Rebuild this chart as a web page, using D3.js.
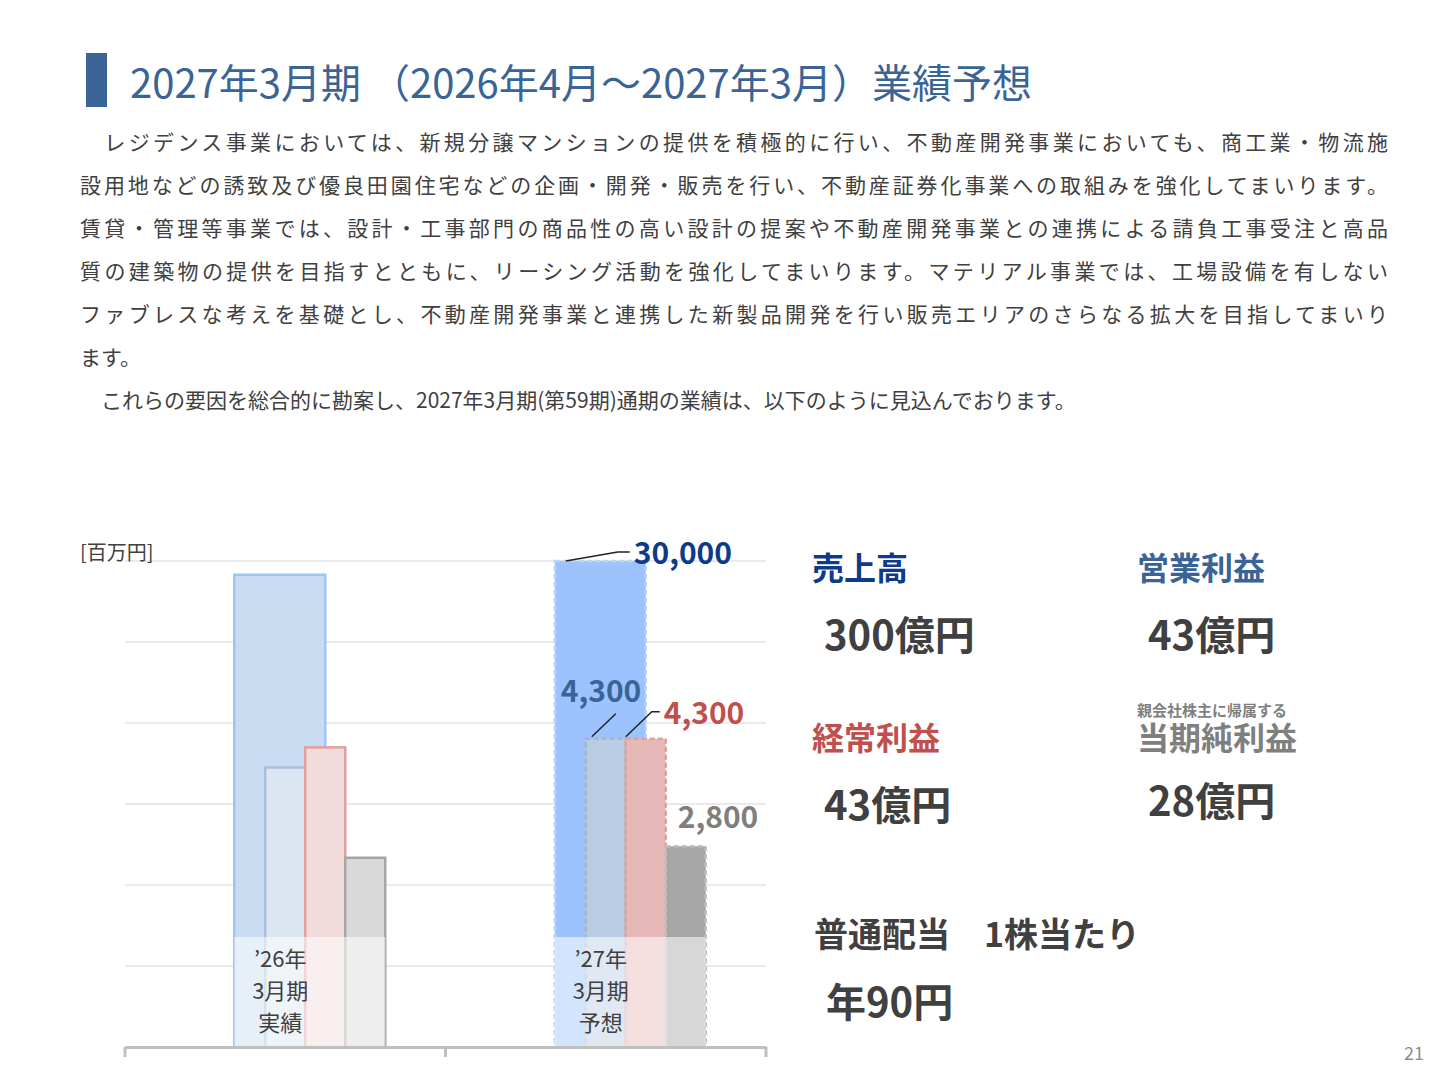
<!DOCTYPE html>
<html><head><meta charset="utf-8">
<script src="https://cdn.jsdelivr.net/npm/d3@7"></script>
<style>body{margin:0;background:#fff}svg{display:block;font-family:"Noto Sans CJK JP","Noto Sans",sans-serif}</style>
</head><body>
<svg id="c" width="1440" height="1080"></svg>
<script>
const periods = ['26', '27'];
const periodLabels = [['’26年', '3月期', '実績'], ['’27年', '3月期', '予想']];
const sales = [29150, 30000];
const opProfit = [3900, 4300];
const ordProfit = [4180, 4300];
const netProfit = [2640, 2800];
const paragraphs = [
  '　レジデンス事業においては、新規分譲マンションの提供を積極的に行い、不動産開発事業においても、商工業・物流施',
  '設用地などの誘致及び優良田園住宅などの企画・開発・販売を行い、不動産証券化事業への取組みを強化してまいります。',
  '賃貸・管理等事業では、設計・工事部門の商品性の高い設計の提案や不動産開発事業との連携による請負工事受注と高品',
  '質の建築物の提供を目指すとともに、リーシング活動を強化してまいります。マテリアル事業では、工場設備を有しない',
  'ファブレスな考えを基礎とし、不動産開発事業と連携した新製品開発を行い販売エリアのさらなる拡大を目指してまいり',
  'ます。',
  '　これらの要因を総合的に勘案し、2027年3月期(第59期)通期の業績は、以下のように見込んでおります。'
];

const svg = d3.select('#c');
svg.append('rect').attr('x', 86).attr('y', 53).attr('width', 21).attr('height', 54).attr('fill', '#3a6496');
svg.append('text').attr('x', 130).attr('y', 98).attr('font-size', 40).attr('fill', '#3a6496')
  .text('2027年3月期 （2026年4月～2027年3月）業績予想');
svg.append('g').selectAll('text').data(paragraphs).join('text')
  .attr('x', 80).attr('y', (d, i) => 150 + i * 43).attr('font-size', 21).attr('fill', '#404040')
  .attr('textLength', d => d.length > 52 ? 1308 : null)
  .text(d => d);

// chart
const yTop = 561, base = 1047, left = 125, right = 766;
const x = d3.scaleBand().domain(periods).range([left, right]);
const ySales = d3.scaleLinear().domain([0, 30000]).range([base, yTop]);
const yProfit = d3.scaleLinear().domain([0, 6780]).range([base, yTop]);
const g = svg.append('g');
g.selectAll('.grid').data(d3.range(0, 30001, 5000)).join('line')
  .attr('x1', left).attr('x2', right).attr('y1', d => ySales(d)).attr('y2', d => ySales(d))
  .attr('stroke', '#e3e3e3').attr('stroke-width', 1.5);
svg.append('text').attr('x', 80).attr('y', 560).attr('font-size', 20).attr('fill', '#404040').text('[百万円]');

const styles = [
  { data: sales, y: ySales, dx: -51, w: 91, fill: ['#cadcf2', '#9cc3fd'], stroke: ['#9cc3fd', '#bcd4f5'] },
  { data: opProfit, y: yProfit, dx: -20, w: 40, fill: ['#dce6f2', '#b8cce4'], stroke: ['#a8bfdc', '#a5b4c8'] },
  { data: ordProfit, y: yProfit, dx: 20, w: 40, fill: ['#f2dcdb', '#e6b8b7'], stroke: ['#e0a09e', '#e0a09e'] },
  { data: netProfit, y: yProfit, dx: 60, w: 40, fill: ['#d9d9d9', '#a6a6a6'], stroke: ['#a6a6a6', '#bfbfbf'] }
];
styles.forEach(s => {
  g.append('g').selectAll('rect').data(periods).join('rect')
    .attr('x', p => x(p) + x.bandwidth() / 2 + s.dx)
    .attr('y', (p, i) => s.y(s.data[i]))
    .attr('width', s.w)
    .attr('height', (p, i) => base - s.y(s.data[i]))
    .attr('fill', (p, i) => s.fill[i])
    .attr('stroke', (p, i) => s.stroke[i]).attr('stroke-width', 2.5)
    .attr('stroke-dasharray', (p, i) => i === 1 ? '5,3' : null);
});
// label overlay
g.selectAll('.ov').data(periods).join('rect')
  .attr('x', p => x(p) + x.bandwidth() / 2 - 51).attr('y', 937).attr('width', 151).attr('height', base - 937)
  .attr('fill', '#fff').attr('opacity', 0.55);
periods.forEach((p, i) => {
  g.append('g').selectAll('text').data(periodLabels[i]).join('text')
    .attr('x', x(p) + x.bandwidth() / 2 - 5).attr('y', (d, j) => 967 + j * 32)
    .attr('text-anchor', 'middle').attr('font-size', 22).attr('fill', '#404040').text(d => d);
});
// axis
const ax = g.append('g').attr('transform', `translate(0,${base})`)
  .call(d3.axisBottom(x).tickSize(0).tickFormat(''));
ax.select('.domain').attr('stroke', '#bfbfbf').attr('stroke-width', 3);
g.selectAll('.tk').data([left, left + x.bandwidth(), right]).join('line')
  .attr('x1', d => d).attr('x2', d => d).attr('y1', base).attr('y2', base + 10)
  .attr('stroke', '#bfbfbf').attr('stroke-width', 3);

// data labels for forecast
const cx = x('27') + x.bandwidth() / 2;
const fmt = d3.format(',');
const lbl = (tx, ty, txt, col) => svg.append('text').attr('x', tx).attr('y', ty)
  .attr('font-size', 30).attr('font-weight', 700).attr('fill', col).text(txt);
svg.append('path').attr('d', `M${cx - 40},${ySales(sales[1])} L${cx + 12},${ySales(sales[1]) - 9} H${cx + 24}`)
  .attr('fill', 'none').attr('stroke', '#222').attr('stroke-width', 1.5);
lbl(cx + 28, 564, fmt(sales[1]), '#0d3a8a');
svg.append('path').attr('d', `M${cx - 14},${yProfit(opProfit[1]) - 2} L${cx + 10},${yProfit(opProfit[1]) - 25}`)
  .attr('fill', 'none').attr('stroke', '#222').attr('stroke-width', 1.5);
lbl(cx - 45, 702, fmt(opProfit[1]), '#3a6496');
svg.append('path').attr('d', `M${cx + 20},${yProfit(ordProfit[1]) - 2} L${cx + 46},${yProfit(ordProfit[1]) - 27} H${cx + 54}`)
  .attr('fill', 'none').attr('stroke', '#222').attr('stroke-width', 1.5);
lbl(cx + 58, 724, fmt(ordProfit[1]), '#c0504d');
lbl(cx + 72, 828, fmt(netProfit[1]), '#7f7f7f');

// right summary
const big = (tx, ty, txt, col, fs) => svg.append('text').attr('x', tx).attr('y', ty)
  .attr('font-size', fs).attr('font-weight', 700).attr('fill', col).text(txt);
big(812, 580, '売上高', '#0d3a8a', 32);
big(1137, 580, '営業利益', '#3a6496', 32);
big(824, 650, '300億円', '#404040', 40);
big(1148, 650, '43億円', '#404040', 40);
big(812, 750, '経常利益', '#c0504d', 32);
big(1137, 716, '親会社株主に帰属する', '#7f7f7f', 15);
big(1137, 750, '当期純利益', '#7f7f7f', 32);
big(824, 820, '43億円', '#404040', 40);
big(1148, 816, '28億円', '#404040', 40);
big(814, 947, '普通配当　1株当たり', '#404040', 34);
big(826, 1017, '年90円', '#404040', 40);
svg.append('text').attr('x', 1424).attr('y', 1060).attr('text-anchor', 'end').attr('font-size', 18).attr('fill', '#8c8c8c').text('21');
</script>
</body></html>
